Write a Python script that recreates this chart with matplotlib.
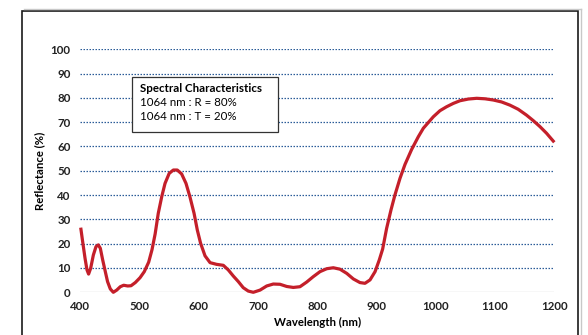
import numpy as np
import matplotlib.pyplot as plt
from matplotlib.patches import Rectangle

plt.rcParams['font.family'] = ['Lato', 'DejaVu Sans']

# wavelength (nm) / reflectance (%)
wavelength = [400.7, 404, 408, 411.3, 414, 417.5, 422, 426.5, 430.4, 433.8, 437.8,
              442.2, 446, 450.6, 455.7, 461.4, 467.5, 473.2, 480, 485.6, 492.8,
              500.8, 508, 515.4, 521, 526.3, 531.6, 537.4, 543, 550, 557, 563.7,
              571, 578.4, 585, 592, 597.5, 603, 610.5, 619, 630, 641.4, 649.8,
              658.2, 666.7, 675, 683.5, 692, 703.3, 714.6, 725.7, 737, 748.4,
              759.5, 770.8, 782, 793, 804.6, 815.9, 827, 838.3, 849.6, 860.8, 872,
              880.5, 889, 897.5, 904.6, 910.3, 917, 924.4, 931, 939.6, 948, 959.3,
              970.5, 979, 995.8, 1007, 1018, 1029.5, 1040.8, 1055, 1069, 1083,
              1097, 1111, 1125, 1139, 1153, 1164.6, 1176, 1187, 1200]
reflectance = [26.6, 20.8, 14, 9.2, 7.5, 9.9, 15.3, 18.8, 19.5, 18.1, 13.3,
               8.5, 4.4, 1.4, 0, 0.9, 2.3, 2.9, 2.6, 2.7, 4,
               6, 8.5, 12.4, 17.5, 24, 32.5, 39.3, 44.8, 48.9, 50.3, 50.3,
               48.7, 44.8, 39.3, 32.5, 25.6, 20.2, 15, 12.2, 11.5, 11.1, 9.2,
               6.7, 4.4, 1.9, 0.5, 0, 0.9, 2.6, 3.4, 3.3, 2.4,
               2, 2.3, 4.2, 6.4, 8.5, 9.7, 10.1, 9.5, 7.8, 5.5, 4,
               3.7, 5.1, 8.5, 13.3, 17.8, 26.3, 33.9, 40, 46.9, 52.6, 58.8,
               64, 67.5, 72.2, 74.7, 76.3, 77.7, 78.8, 79.5, 79.8, 79.6,
               79.1, 78.3, 77, 75.3, 72.9, 70.6, 68.1, 65.4, 61.7]

x_ticks = [400, 500, 600, 700, 800, 900, 1000, 1100, 1200]
y_ticks = [0, 10, 20, 30, 40, 50, 60, 70, 80, 90, 100]
box_lines = ["Spectral Characteristics", "1064 nm : R = 80%", "1064 nm : T = 20%"]

W, H = 588, 335
fig = plt.figure(figsize=(W / 100, H / 100), dpi=100)

# outer frame with a light shadow on top and right
fig.add_artist(plt.Line2D([24 / W, 580.5 / W], [1 - 9.3 / H, 1 - 9.3 / H],
                          transform=fig.transFigure, color="#c8c8c8", lw=1.0))
fig.add_artist(plt.Line2D([580.5 / W, 580.5 / W], [0, 1 - 9.3 / H],
                          transform=fig.transFigure, color="#c8c8c8", lw=1.0))
fig.add_artist(Rectangle((22.3 / W, -0.1), 555.7 / W, (H - 10.7) / H + 0.1,
                         transform=fig.transFigure, fill=False, lw=1.2,
                         ec="#1a1a1a", zorder=1))

ax = fig.add_axes([80.3 / W, 1 - 292.3 / H, 474 / W, 243.1 / H])
ax.set_xlim(400, 1200)
ax.set_ylim(0, 100)
for s in ax.spines.values():
    s.set_visible(False)

for y in y_ticks[1:]:
    ax.axhline(y, color="#2b5c98", lw=0.9, ls=(0, (1.2, 1.2)), zorder=1)
ax.axhline(0, color="#d9d9d9", lw=1.0, zorder=1)

ax.plot(wavelength, reflectance, color="#c41f2a", lw=2.3, solid_capstyle="butt",
        solid_joinstyle="round", clip_on=False, zorder=3)

ax.set_xticks(x_ticks)
ax.set_yticks(y_ticks)
ax.tick_params(length=0, labelsize=8.3, colors="#222222")
ax.tick_params(axis="y", pad=7)
ax.tick_params(axis="x", pad=6)
for lab in ax.get_xticklabels() + ax.get_yticklabels():
    lab.set_fontweight("bold")

ax.set_xlabel("Wavelength (nm)", fontsize=8.2, fontweight="bold", labelpad=4)
ax.set_ylabel("Reflectance (%)", fontsize=8.2, fontweight="bold", labelpad=4)

# spec box
fig.add_artist(Rectangle((131.7 / W, 1 - 131.7 / H), 146.3 / W, 55 / H,
                         transform=fig.transFigure, fc="white", ec="#333333",
                         lw=0.9, zorder=5))
fig.text(140 / W, 1 - 88.5 / H, box_lines[0], fontsize=8.3, fontweight="bold",
         va="center", ha="left", zorder=6)
fig.text(140 / W, 1 - 102.5 / H, box_lines[1], fontsize=8.3,
         va="center", ha="left", zorder=6)
fig.text(140 / W, 1 - 117 / H, box_lines[2], fontsize=8.3,
         va="center", ha="left", zorder=6)

fig.savefig("out.png", dpi=100)
